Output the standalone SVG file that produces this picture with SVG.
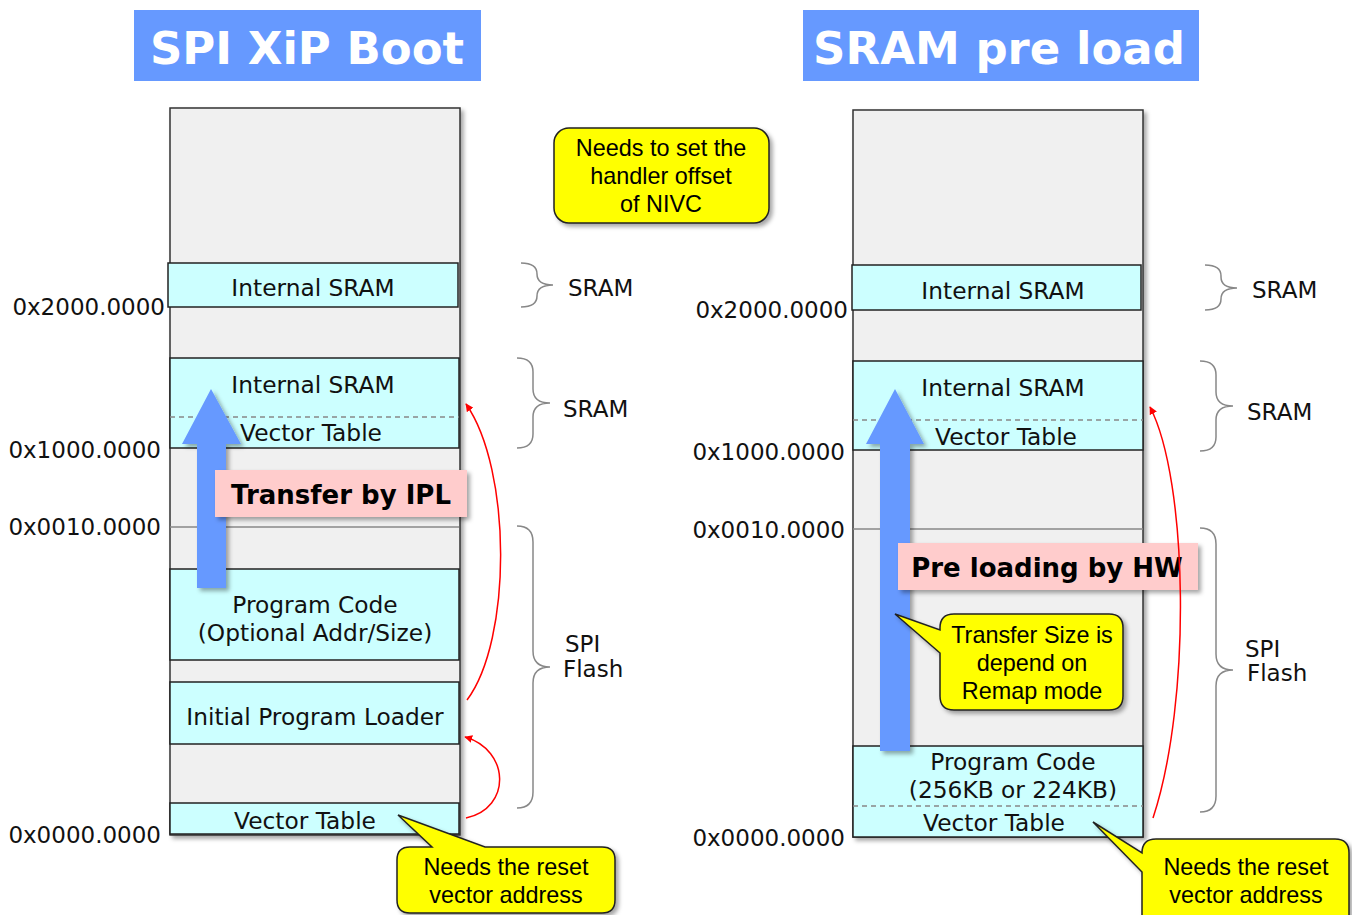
<svg xmlns="http://www.w3.org/2000/svg" width="1352" height="915" viewBox="0 0 1352 915">
<style>
.title{font-family:"DejaVu Sans",Verdana,sans-serif;font-weight:bold;font-size:45px;fill:#fff;text-anchor:middle}
.col{fill:#f0f0f0;stroke:#333;stroke-width:1.5}
.box{fill:#ccffff;stroke:#222;stroke-width:1.5}
.lbl{font-family:"DejaVu Sans",Verdana,sans-serif;font-size:23.3px;fill:#111;text-anchor:middle}
.addr{font-family:"DejaVu Sans",Verdana,sans-serif;font-size:23px;fill:#111;text-anchor:end}
.side{font-family:"DejaVu Sans",Verdana,sans-serif;font-size:23px;fill:#111}
.dash{stroke:#888;stroke-width:1.3;stroke-dasharray:5,4;fill:none}
.gl{stroke:#888;stroke-width:1.3}
.brace{fill:none;stroke:#888;stroke-width:1.5}
.red{fill:none;stroke:#ff0000;stroke-width:1.5}
.blue{fill:#6699ff}
.pink{fill:#ffcccc}
.big{font-family:"DejaVu Sans",Verdana,sans-serif;font-weight:bold;font-size:26px;fill:#000;text-anchor:middle}
.call{fill:#ffff00;stroke:#222;stroke-width:1.5}
.ct{font-family:"Liberation Sans",Arial,sans-serif;font-size:23.4px;fill:#000;text-anchor:middle}
</style>
<defs>
<filter id="sh" x="-10%" y="-10%" width="130%" height="130%">
<feDropShadow dx="3" dy="3" stdDeviation="2" flood-color="#000" flood-opacity="0.35"/>
</filter>
<marker id="ah" viewBox="0 0 10 10" refX="9" refY="5" markerWidth="8" markerHeight="8" orient="auto" markerUnits="userSpaceOnUse">
<path d="M0,0 L10,5 L0,10 Z" fill="#ff0000"/>
</marker>
</defs>
<rect width="1352" height="915" fill="#fff"/>

<!-- LEFT PANEL -->
<g id="title-left">
<rect x="134" y="10" width="347" height="71" fill="#6699ff"/>
<text class="title" x="307" y="64">SPI XiP Boot</text>
</g>
<g id="mem-left">
<rect class="col" x="170" y="108" width="290" height="727" filter="url(#sh)"/>
<line class="gl" x1="170" y1="527" x2="459" y2="527"/>
</g>
<g id="l-sram-top">
<rect class="box" x="168" y="263" width="290" height="44"/>
<text class="lbl" x="313" y="296">Internal SRAM</text>
</g>
<g id="l-sram-vt">
<rect class="box" x="170" y="358" width="289" height="90"/>
<line class="dash" x1="170" y1="417" x2="459" y2="417"/>
<text class="lbl" x="313" y="393">Internal SRAM</text>
<text class="lbl" x="311" y="441">Vector Table</text>
</g>
<g id="l-prog">
<rect class="box" x="170" y="569" width="289" height="91"/>
<text class="lbl" x="315" y="613">Program Code</text>
<text class="lbl" x="315" y="641">(Optional Addr/Size)</text>
</g>
<g id="l-ipl">
<rect class="box" x="170" y="682" width="289" height="62"/>
<text class="lbl" x="315" y="725">Initial Program Loader</text>
</g>
<g id="l-vt">
<rect class="box" x="170" y="803" width="289" height="31"/>
<text class="lbl" x="305" y="829">Vector Table</text>
</g>
<g id="l-addr">
<text class="addr" x="165" y="315">0x2000.0000</text>
<text class="addr" x="161" y="458">0x1000.0000</text>
<text class="addr" x="161" y="535">0x0010.0000</text>
<text class="addr" x="161" y="843">0x0000.0000</text>
</g>
<g id="l-blue-arrow">
<polygon class="blue" points="197,588 226,588 226,444 241,444 211,389 182,444 197,444" filter="url(#sh)"/>
</g>
<g id="l-transfer">
<rect class="pink" x="215" y="470" width="252" height="47" filter="url(#sh)"/>
<text class="big" x="341" y="504">Transfer by IPL</text>
</g>
<g id="l-braces">
<path class="brace" d="M521,263 Q537,263 537,274 L537,274 Q537,285 553,285 Q537,285 537,296 L537,296 Q537,307 521,307"/>
<text class="side" x="568" y="296">SRAM</text>
<path class="brace" d="M517,358 Q533,358 533,372 L533,389 Q533,403 550,403 Q533,403 533,417 L533,434 Q533,448 517,448"/>
<text class="side" x="563" y="417">SRAM</text>
<path class="brace" d="M517,526 Q533,526 533,542 L533,651 Q533,667 550,667 Q533,667 533,683 L533,792 Q533,808 517,808"/>
<text class="side" x="565" y="652">SPI</text>
<text class="side" x="563" y="677">Flash</text>
</g>
<g id="l-callout-nivc">
<rect class="call" x="554" y="128" width="215" height="95" rx="15" filter="url(#sh)"/>
<text class="ct" x="661" y="156">Needs to set the</text>
<text class="ct" x="661" y="184">handler offset</text>
<text class="ct" x="661" y="212">of NIVC</text>
</g>
<g id="l-callout-reset">
<path class="call" filter="url(#sh)" d="M410,847 L432,847 L398,815 L485,847 L602,847 Q615,847 615,860 L615,900 Q615,913 602,913 L410,913 Q397,913 397,900 L397,860 Q397,847 410,847 Z"/>
<text class="ct" x="506" y="875">Needs the reset</text>
<text class="ct" x="506" y="903">vector address</text>
</g>

<!-- RIGHT PANEL -->
<g id="title-right">
<rect x="803" y="10" width="396" height="71" fill="#6699ff"/>
<text class="title" x="999" y="64">SRAM pre load</text>
</g>
<g id="mem-right">
<rect class="col" x="853" y="110" width="290" height="727" filter="url(#sh)"/>
<line class="gl" x1="853" y1="529" x2="1143" y2="529"/>
</g>
<g id="r-sram-top">
<rect class="box" x="852" y="265" width="289" height="45"/>
<text class="lbl" x="1003" y="299">Internal SRAM</text>
</g>
<g id="r-sram-vt">
<rect class="box" x="853" y="361" width="290" height="89"/>
<line class="dash" x1="853" y1="420" x2="1143" y2="420"/>
<text class="lbl" x="1003" y="396">Internal SRAM</text>
<text class="lbl" x="1006" y="445">Vector Table</text>
</g>
<g id="r-prog-vt">
<rect class="box" x="853" y="746" width="290" height="91"/>
<line class="dash" x1="853" y1="806" x2="1143" y2="806"/>
<text class="lbl" x="1013" y="770">Program Code</text>
<text class="lbl" x="1013" y="798">(256KB or 224KB)</text>
<text class="lbl" x="994" y="831">Vector Table</text>
</g>
<g id="r-addr">
<text class="addr" x="848" y="318">0x2000.0000</text>
<text class="addr" x="845" y="460">0x1000.0000</text>
<text class="addr" x="845" y="538">0x0010.0000</text>
<text class="addr" x="845" y="846">0x0000.0000</text>
</g>
<g id="r-blue-arrow">
<polygon class="blue" points="880,751 910,751 910,444 924,444 895,389 866,444 880,444" filter="url(#sh)"/>
</g>
<g id="r-preload">
<rect class="pink" x="898" y="543" width="300" height="47" filter="url(#sh)"/>
<text class="big" x="1047" y="577">Pre loading by HW</text>
</g>
<g id="r-braces">
<path class="brace" d="M1205,265 Q1221,265 1221,276 L1221,277 Q1221,288 1237,288 Q1221,288 1221,299 L1221,299 Q1221,310 1205,310"/>
<text class="side" x="1252" y="298">SRAM</text>
<path class="brace" d="M1200,361 Q1216,361 1216,375 L1216,392 Q1216,406 1233,406 Q1216,406 1216,420 L1216,437 Q1216,451 1200,451"/>
<text class="side" x="1247" y="420">SRAM</text>
<path class="brace" d="M1200,528 Q1216,528 1216,544 L1216,654 Q1216,670 1233,670 Q1216,670 1216,686 L1216,796 Q1216,812 1200,812"/>
<text class="side" x="1245" y="657">SPI</text>
<text class="side" x="1247" y="681">Flash</text>
</g>
<g id="r-callout-size">
<path class="call" filter="url(#sh)" d="M954,614 L1109,614 Q1123,614 1123,628 L1123,696 Q1123,710 1109,710 L954,710 Q940,710 940,696 L940,653 L895,614 L940,630 L940,628 Q940,614 954,614 Z"/>
<text class="ct" x="1032" y="643">Transfer Size is</text>
<text class="ct" x="1032" y="671">depend on</text>
<text class="ct" x="1032" y="699">Remap mode</text>
</g>
<g id="r-callout-reset">
<path class="call" filter="url(#sh)" d="M1156,839 L1335,839 Q1349,839 1349,853 L1349,930 L1142,930 L1142,872 L1093,822 L1142,853 Q1142,839 1156,839 Z"/>
<text class="ct" x="1246" y="875">Needs the reset</text>
<text class="ct" x="1246" y="903">vector address</text>
</g>

<!-- CONNECTORS -->
<g id="connectors">
<path class="red" d="M467,700 C512,640 512,470 466,404" marker-end="url(#ah)"/>
<path class="red" d="M466,818 C512,808 510,750 465,737" marker-end="url(#ah)"/>
<path class="red" d="M1153,818 C1192,700 1188,480 1150,407" marker-end="url(#ah)"/>
</g>
</svg>
